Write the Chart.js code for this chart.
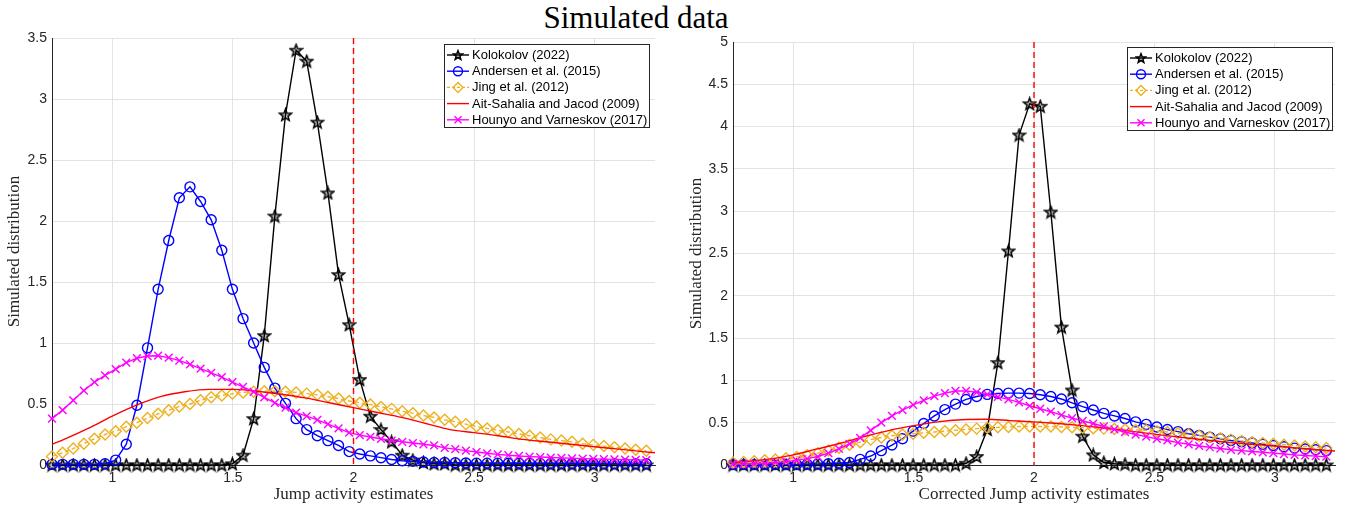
<!DOCTYPE html>
<html>
<head>
<meta charset="utf-8">
<script src="https://cdn.jsdelivr.net/npm/chart.js@4.4.1/dist/chart.umd.min.js"></script>
<style>
  body { margin: 0; background: #fff; width: 1355px; height: 506px; overflow: hidden; position: relative; }
  #titulo { position: absolute; top: 2px; left: 0; width: 1272px; text-align: center;
            font: 31px "Liberation Serif", "Times New Roman", serif; line-height: 31px; color: #000; }
  .caixa { position: absolute; top: 0; height: 506px; }
</style>
</head>
<body>
<div id="titulo">Simulated data</div>
<div class="caixa" style="left:0;width:677px"><canvas id="graficoEsq" width="677" height="506"></canvas></div>
<div class="caixa" style="left:677px;width:678px"><canvas id="graficoDir" width="678" height="506"></canvas></div>

<script>
// grade de x (mesma para os dois paineis)
const xs = [0.75,0.794,0.838,0.882,0.926,0.97,1.014,1.058,1.102,1.146,
  1.19,1.234,1.278,1.322,1.366,1.41,1.454,1.498,1.542,1.586,
  1.63,1.674,1.718,1.762,1.806,1.85,1.894,1.938,1.982,2.026,
  2.07,2.114,2.158,2.202,2.246,2.29,2.334,2.378,2.422,2.466,
  2.51,2.554,2.598,2.642,2.686,2.73,2.774,2.818,2.862,2.906,
  2.95,2.994,3.038,3.082,3.126,3.17,3.214];
// grade da curva vermelha (sem marcadores)
const redX = [0.75,0.8,0.9,1.0,1.1,1.2,1.3,1.4,1.5,1.6,1.7,1.8,1.9,2.0,
  2.1,2.2,2.3,2.4,2.5,2.6,2.7,2.8,2.9,3.0,3.1,3.2,3.25];

const xTicks = [1, 1.5, 2, 2.5, 3];
const yTicksEsq = [0, 0.5, 1, 1.5, 2, 2.5, 3, 3.5];
const yTicksDir = [0, 0.5, 1, 1.5, 2, 2.5, 3, 3.5, 4, 4.5, 5];
const refX = 2; // linha tracejada

const nomes = ['Kolokolov (2022)', 'Andersen et al. (2015)', 'Jing et al. (2012)',
  'Ait-Sahalia and Jacod (2009)', 'Hounyo and Varneskov (2017)'];

// painel esquerdo ----------------------------------------------------------
const kolEsq = [0,0,0,0,0,0,0,0,0,0,
  0,0,0,0,0,0,0,0.01,0.08,0.38,
  1.06,2.04,2.87,3.40,3.31,2.81,2.23,1.56,1.15,0.70,
  0.40,0.29,0.19,0.08,0.04,0.02,0.01,0.01,0,0,
  0,0,0,0,0,0,0,0,0,0,
  0,0,0,0,0,0,0];
const andEsq = [0.005,0.005,0.005,0.005,0.005,0.01,0.04,0.17,0.49,0.96,
  1.44,1.84,2.19,2.28,2.16,2.01,1.76,1.44,1.20,1.00,
  0.80,0.63,0.505,0.38,0.29,0.24,0.20,0.16,0.11,0.09,
  0.075,0.06,0.045,0.035,0.03,0.025,0.02,0.02,0.018,0.016,
  0.015,0.015,0.015,0.014,0.014,0.014,0.013,0.013,0.013,0.012,
  0.012,0.012,0.011,0.011,0.011,0.01,0.01];
const jingEsq = [0.07,0.10,0.135,0.175,0.215,0.25,0.277,0.314,0.347,0.385,
  0.42,0.448,0.48,0.50,0.53,0.555,0.57,0.585,0.595,0.60,
  0.605,0.605,0.60,0.595,0.585,0.575,0.56,0.545,0.525,0.51,
  0.495,0.475,0.46,0.44,0.425,0.405,0.39,0.37,0.355,0.335,
  0.315,0.30,0.285,0.27,0.255,0.24,0.225,0.21,0.20,0.19,
  0.175,0.165,0.155,0.145,0.135,0.125,0.117];
const aitEsq = [0.17,0.21,0.30,0.40,0.49,0.56,0.60,0.62,0.62,0.605,0.58,0.55,0.51,0.47,
  0.43,0.39,0.34,0.29,0.265,0.24,0.21,0.19,0.17,0.15,0.13,0.11,0.10];
const houEsq = [0.38,0.45,0.53,0.61,0.68,0.735,0.786,0.84,0.875,0.893,
  0.896,0.88,0.855,0.825,0.79,0.755,0.72,0.68,0.64,0.60,
  0.555,0.51,0.47,0.43,0.40,0.37,0.335,0.30,0.265,0.245,
  0.23,0.215,0.20,0.19,0.18,0.17,0.16,0.14,0.13,0.118,
  0.106,0.096,0.087,0.08,0.074,0.069,0.065,0.061,0.058,0.055,
  0.052,0.05,0.048,0.046,0.044,0.042,0.04];

// painel direito -----------------------------------------------------------
const kolDir = [0,0,0,0,0,0,0,0,0,0,
  0,0,0,0,0,0,0,0,0,0,
  0,0,0.02,0.10,0.42,1.21,2.53,3.90,4.27,4.24,
  2.99,1.63,0.886,0.34,0.12,0.03,0.015,0.01,0,0,
  0,0,0,0,0,0,0,0,0,0,
  0,0,0,0,0,0,0];
const andDir = [0.005,0.005,0.005,0.005,0.005,0.005,0.005,0.008,0.01,0.015,
  0.02,0.03,0.067,0.106,0.17,0.236,0.31,0.40,0.49,0.58,
  0.655,0.72,0.775,0.81,0.835,0.845,0.85,0.85,0.845,0.83,
  0.81,0.78,0.735,0.69,0.65,0.61,0.58,0.55,0.51,0.48,
  0.45,0.42,0.395,0.37,0.35,0.33,0.31,0.29,0.275,0.26,
  0.245,0.23,0.215,0.20,0.19,0.18,0.17];
const jingDir = [0.03,0.035,0.045,0.055,0.065,0.08,0.095,0.115,0.14,0.17,
  0.205,0.24,0.27,0.30,0.325,0.345,0.36,0.37,0.38,0.39,
  0.40,0.41,0.42,0.43,0.44,0.445,0.45,0.455,0.455,0.455,
  0.455,0.45,0.445,0.44,0.435,0.43,0.425,0.42,0.415,0.41,
  0.40,0.39,0.375,0.36,0.345,0.33,0.315,0.30,0.285,0.27,
  0.26,0.25,0.24,0.23,0.22,0.21,0.20];
const aitDir = [0.03,0.04,0.07,0.12,0.19,0.26,0.34,0.41,0.465,0.51,0.535,0.54,0.525,0.51,
  0.49,0.465,0.435,0.40,0.365,0.33,0.30,0.27,0.245,0.225,0.20,0.175,0.165];
const houDir = [0.01,0.012,0.015,0.02,0.03,0.04,0.055,0.075,0.10,0.14,
  0.19,0.25,0.32,0.41,0.50,0.58,0.65,0.71,0.765,0.815,
  0.85,0.875,0.875,0.86,0.835,0.805,0.775,0.74,0.70,0.665,
  0.63,0.59,0.555,0.52,0.49,0.455,0.42,0.39,0.36,0.335,
  0.31,0.29,0.265,0.245,0.225,0.21,0.195,0.18,0.17,0.16,
  0.15,0.14,0.13,0.12,0.113,0.105,0.098];

// estrela (pentagrama) desenhada num canvas pequeno
function fazerEstrela(tam) {
  const c = document.createElement('canvas');
  c.width = tam; c.height = tam;
  const g = c.getContext('2d');
  const cx = tam / 2, cy = tam / 2 + 0.5, r = tam / 2 - 1.2, ri = r * 0.42;
  g.beginPath();
  for (let k = 0; k < 10; k++) {
    const ang = -Math.PI / 2 + k * Math.PI / 5;
    const rr = k % 2 ? ri : r;
    g.lineTo(cx + rr * Math.cos(ang), cy + rr * Math.sin(ang));
  }
  g.closePath();
  g.fillStyle = 'rgba(0,0,0,0.25)';
  g.fill();
  g.lineWidth = 1.5; g.strokeStyle = '#000';
  g.stroke();
  return c;
}
const estrela = fazerEstrela(15);
const estrelaLeg = fazerEstrela(12);

const estilos = [
  { cor: '#000000', ponto: estrela, raio: 7, traco: [] },
  { cor: '#0000FF', ponto: 'circle', raio: 5, traco: [] },
  { cor: '#EDB120', ponto: 'rectRot', raio: 5.5, traco: [4, 3] },
  { cor: '#FF0000', ponto: false, raio: 0, traco: [] },
  { cor: '#FF00FF', ponto: 'crossRot', raio: 5.5, traco: [] }
];

function montarSeries(listas) {
  return listas.map((vals, k) => {
    const e = estilos[k];
    const xv = k === 3 ? redX : xs;
    return {
      label: nomes[k],
      data: vals.map((v, i) => ({ x: xv[i], y: v })),
      borderColor: e.cor,
      borderWidth: 1.4,
      borderDash: e.traco,
      pointStyle: e.ponto || 'circle',
      pointRadius: e.raio,
      pointHoverRadius: e.raio,
      pointBorderColor: e.cor,
      pointBackgroundColor: 'rgba(0,0,0,0)',
      pointBorderWidth: 1.4,
      tension: k === 3 ? 0.4 : 0,
      cubicInterpolationMode: k === 3 ? 'monotone' : 'default',
      fill: false,
      clip: false,
      order: 4 - k
    };
  });
}

// marcador da legenda
function marcador(ctx, e, x, y) {
  ctx.save();
  ctx.strokeStyle = e.cor; ctx.lineWidth = 1.4; ctx.setLineDash([]);
  ctx.beginPath();
  if (e.ponto === 'circle') {
    ctx.arc(x, y, 4.5, 0, Math.PI * 2);
  } else if (e.ponto === 'rectRot') {
    ctx.moveTo(x - 5, y); ctx.lineTo(x, y - 5); ctx.lineTo(x + 5, y); ctx.lineTo(x, y + 5); ctx.closePath();
  } else if (e.ponto === 'crossRot') {
    ctx.moveTo(x - 3.5, y - 3.5); ctx.lineTo(x + 3.5, y + 3.5);
    ctx.moveTo(x + 3.5, y - 3.5); ctx.lineTo(x - 3.5, y + 3.5);
  } else if (e.ponto) {
    ctx.drawImage(estrelaLeg, x - estrelaLeg.width / 2, y - estrelaLeg.height / 2);
  }
  ctx.stroke();
  ctx.restore();
}

const extras = {
  id: 'extras',
  afterDatasetsDraw(chart) {
    const { ctx, chartArea: a, scales: { x } } = chart;
    const px = x.getPixelForValue(refX);
    ctx.save();
    ctx.strokeStyle = '#FF0000'; ctx.lineWidth = 1.4; ctx.setLineDash([6, 4]);
    ctx.beginPath(); ctx.moveTo(px, a.top); ctx.lineTo(px, a.bottom); ctx.stroke();
    ctx.restore();
  },
  afterDraw(chart, args, opts) {
    const { ctx, chartArea: a } = chart;
    const w = 205, h = 83;
    const x0 = Math.round(a.right - opts.direita - w), y0 = Math.round(a.top + opts.topo);
    ctx.save();
    ctx.fillStyle = '#fff'; ctx.fillRect(x0, y0, w, h);
    ctx.strokeStyle = '#262626'; ctx.lineWidth = 1; ctx.strokeRect(x0 + 0.5, y0 + 0.5, w, h);
    ctx.font = '13px "Liberation Sans", Arial, sans-serif';
    ctx.textBaseline = 'middle';
    nomes.forEach((n, k) => {
      const yy = y0 + 11 + k * 16.2;
      const e = estilos[k];
      ctx.strokeStyle = e.cor; ctx.lineWidth = 1.4; ctx.setLineDash(e.traco.length ? [3, 2] : []);
      ctx.beginPath(); ctx.moveTo(x0 + 3, yy); ctx.lineTo(x0 + 25, yy); ctx.stroke();
      marcador(ctx, e, x0 + 14, yy);
      ctx.fillStyle = '#000';
      ctx.fillText(n, x0 + 28, yy + 0.5);
    });
    ctx.restore();
  }
};

const fonteTick = { family: '"Liberation Sans", Arial, sans-serif', size: 14 };
const fonteTitulo = { family: '"Liberation Serif", "Times New Roman", serif', size: 17 };

function montarGrafico(id, listas, cfg) {
  const ctx = document.getElementById(id).getContext('2d');
  return new Chart(ctx, {
    type: 'line',
    data: { datasets: montarSeries(listas) },
    options: {
      responsive: false,
      animation: false,
      devicePixelRatio: 1,
      events: [],
      layout: { padding: { left: 0, right: cfg.padDir, top: cfg.padTopo, bottom: 0 } },
      plugins: {
        legend: { display: false },
        tooltip: { enabled: false },
        extras: { direita: cfg.legDir, topo: cfg.legTopo }
      },
      scales: {
        x: {
          type: 'linear', min: 0.75, max: 3.25,
          afterBuildTicks: s => { s.ticks = xTicks.map(v => ({ value: v })); },
          afterFit: s => { s.height = 41; },
          ticks: { font: fonteTick, color: '#262626', padding: 5, maxRotation: 0, callback: v => String(v) },
          grid: { color: '#e3e3e3', drawTicks: false },
          border: { color: '#262626', width: 1 },
          title: { display: true, text: cfg.tituloX, font: fonteTitulo, color: '#262626', padding: { top: 0, bottom: 1 } }
        },
        y: {
          type: 'linear', min: 0, max: cfg.yMax,
          afterBuildTicks: s => { s.ticks = cfg.yTicks.map(v => ({ value: v })); },
          afterFit: s => { s.width = cfg.larguraY; },
          ticks: { font: fonteTick, color: '#262626', padding: 5, callback: v => String(v) },
          grid: { color: '#e3e3e3', drawTicks: false },
          border: { color: '#262626', width: 1 },
          title: { display: true, text: 'Simulated distribution', font: fonteTitulo, color: '#262626', padding: { top: cfg.padTituloY, bottom: 0 } }
        }
      }
    },
    plugins: [extras]
  });
}

montarGrafico('graficoEsq', [kolEsq, andEsq, jingEsq, aitEsq, houEsq], {
  yMax: 3.5, yTicks: yTicksEsq, larguraY: 52, padDir: 22, padTopo: 38,
  legDir: 6, legTopo: 6, padTituloY: 4, tituloX: 'Jump activity estimates'
});

montarGrafico('graficoDir', [kolDir, andDir, jingDir, aitDir, houDir], {
  yMax: 5, yTicks: yTicksDir, larguraY: 56, padDir: 20, padTopo: 42,
  legDir: 3, legTopo: 5, padTituloY: 9, tituloX: 'Corrected Jump activity estimates'
});
</script>
</body>
</html>
